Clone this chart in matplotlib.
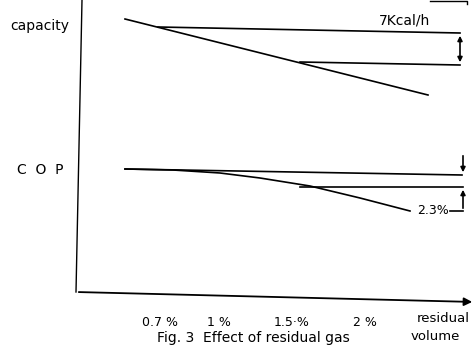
import matplotlib
matplotlib.use("Agg")
import matplotlib.pyplot as plt

# --- data (schematic in drawing units) ---
tick_labels = ["0.7 %", "1 %", "1.5·%", "2 %"]
tick_pos = [160, 219, 292, 365]

cap_actual_x = [125, 428]
cap_actual_y = [19, 95]
cap_ref_x = [158, 460]
cap_ref_y = [27, 33]
cap_low_x = [300, 460]
cap_low_y = [62, 65]

cop_ref_x = [125, 462]
cop_ref_y = [169, 175]
cop_low_x = [300, 463]
cop_low_y = [187, 187]
cop_actual_x = [125, 173, 220, 260, 310, 360, 410]
cop_actual_y = [169, 170, 173, 178, 186, 198, 211]

fig = plt.figure(figsize=(4.75, 3.53), dpi=100)
ax = fig.add_axes([0, 0, 1, 1])
ax.set_xlim(0, 475)
ax.set_ylim(353, 0)
ax.axis("off")

lw = 1.2
k = "black"
# axes
ax.plot([82, 76], [0, 292], color=k, lw=1.0)
ax.annotate("", xy=(475, 302), xytext=(76, 292),
            arrowprops=dict(arrowstyle="-|>", color=k, lw=1.3, mutation_scale=12))

# capacity
ax.plot(cap_actual_x, cap_actual_y, color=k, lw=lw)
ax.plot(cap_ref_x, cap_ref_y, color=k, lw=lw)
ax.plot(cap_low_x, cap_low_y, color=k, lw=lw)
ax.annotate("", xy=(460, 33), xytext=(460, 65),
            arrowprops=dict(arrowstyle="<|-|>", color=k, lw=1.2, mutation_scale=7))

# COP
ax.plot(cop_ref_x, cop_ref_y, color=k, lw=lw)
ax.plot(cop_low_x, cop_low_y, color=k, lw=lw)
ax.plot(cop_actual_x, cop_actual_y, color=k, lw=lw)
ax.annotate("", xy=(463, 175), xytext=(463, 153),
            arrowprops=dict(arrowstyle="-|>", color=k, lw=1.2, mutation_scale=7))
ax.annotate("", xy=(463, 187), xytext=(463, 211),
            arrowprops=dict(arrowstyle="-|>", color=k, lw=1.2, mutation_scale=7))
ax.plot([450, 463], [211, 211], color=k, lw=lw)

# small artifact top right
ax.plot([430, 467, 467], [1, 1, 4], color=k, lw=1.0)

fs = 10
ax.text(40, 26, "capacity", ha="center", va="center", fontsize=fs)
ax.text(40, 170, "C  O  P", ha="center", va="center", fontsize=fs)
ax.text(405, 21, "7Kcal/h", ha="center", va="center", fontsize=fs)
ax.text(433, 210, "2.3%", ha="center", va="center", fontsize=fs - 1)

for p, lab in zip(tick_pos, tick_labels):
    ax.text(p, 322, lab, ha="center", va="center", fontsize=fs - 1)
ax.text(443, 318, "residual", ha="center", va="center", fontsize=fs - 0.5)
ax.text(435, 337, "volume", ha="center", va="center", fontsize=fs - 0.5)
ax.text(253, 338, "Fig. 3  Effect of residual gas", ha="center", va="center", fontsize=fs)

fig.savefig("out.png", dpi=100)
